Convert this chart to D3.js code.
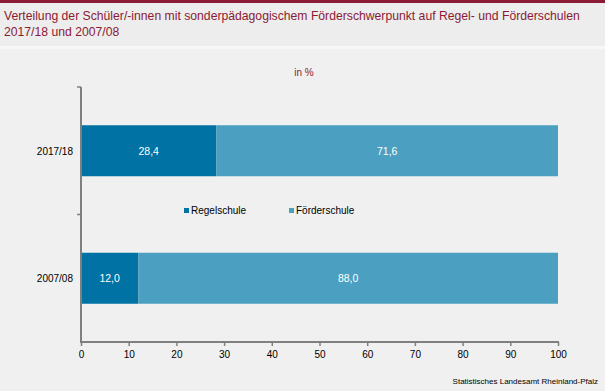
<!DOCTYPE html>
<html><head><meta charset="utf-8">
<script src="https://cdn.jsdelivr.net/npm/d3@7"></script>
<style>
html,body{margin:0;padding:0;background:#eff0ef;}
svg{display:block;font-family:"Liberation Sans",Arial,sans-serif;}
</style></head>
<body>
<script>
const categories = ["2017/18", "2007/08"];
const seriesNames = ["Regelschule", "Förderschule"];
const regelschule = [28.4, 12.0];
const foerderschule = [71.6, 88.0];
const xTicks = [0,10,20,30,40,50,60,70,80,90,100];
const colors = ["#0072a3", "#4b9fc1"];

const W = 605, H = 391;
const svg = d3.select("body").append("svg").attr("width", W).attr("height", H);

svg.append("rect").attr("x",0).attr("y",0).attr("width",W).attr("height",H).attr("fill","#eff0ef");
svg.append("rect").attr("x",0).attr("y",0).attr("width",W).attr("height",46).attr("fill","#ecedec");
svg.append("rect").attr("x",0).attr("y",46).attr("width",W).attr("height",3).attr("fill","#f7f7f7");
svg.append("rect").attr("x",0).attr("y",0).attr("width",W).attr("height",3).attr("fill","#8b1a35");

const title = svg.append("text").attr("fill","#8b1a35").attr("font-size",12.2);
title.append("tspan").attr("x",4).attr("y",20).text("Verteilung der Schüler/-innen mit sonderpädagogischem Förderschwerpunkt auf Regel- und Förderschulen");
title.append("tspan").attr("x",4).attr("y",36).text("2017/18 und 2007/08");

svg.append("text").attr("x",304).attr("y",76).attr("text-anchor","middle").attr("font-size",10).attr("fill","#8b1a35").text("in %");

const x = d3.scaleLinear().domain([0,100]).range([81,558]);
const y = d3.scaleBand().domain(categories).range([87,342]).paddingInner(0.6).paddingOuter(0.3);

const data = categories.map((c,i)=>({cat:c, vals:[regelschule[i], foerderschule[i]]}));
const stack = d3.stack().keys([0,1]).value((d,k)=>d.vals[k]);
const series = stack(data);

const g = svg.append("g");
series.forEach((s,si)=>{
  g.selectAll(null).data(s).enter().append("rect")
    .attr("x",d=>x(d[0])).attr("width",d=>x(d[1])-x(d[0]))
    .attr("y",d=>y(d.data.cat)).attr("height",y.bandwidth())
    .attr("fill",colors[si]);
  g.selectAll(null).data(s).enter().append("text")
    .attr("x",d=>(x(d[0])+x(d[1]))/2).attr("y",d=>y(d.data.cat)+y.bandwidth()/2+4)
    .attr("text-anchor","middle").attr("fill","#fff").attr("font-size",10.5)
    .text(d=>d3.format(".1f")(d[1]-d[0]).replace(".",","));
});

// y axis
const axisColor = "#7f7f7f";
svg.append("line").attr("x1",81).attr("x2",81).attr("y1",87).attr("y2",343).attr("stroke",axisColor).attr("stroke-width",2);
const bounds = [87, (87+342)/2];
bounds.forEach(b=>svg.append("line").attr("x1",77).attr("x2",81).attr("y1",b).attr("y2",b).attr("stroke",axisColor).attr("stroke-width",1.5));
categories.forEach(c=>{
  svg.append("text").attr("x",73).attr("y",y(c)+y.bandwidth()/2+4).attr("text-anchor","end")
    .attr("font-size",10).attr("fill","#000").text(c);
});

// x axis
const xa = svg.append("g").attr("transform","translate(0,342)")
  .call(d3.axisBottom(x).tickValues(xTicks).tickSize(4).tickFormat(d3.format("d")));
xa.select(".domain").attr("stroke",axisColor).attr("stroke-width",2).attr("d","M80,0H559");
xa.selectAll(".tick line").attr("stroke",axisColor).attr("stroke-width",1.5);
xa.selectAll(".tick text").attr("fill","#000").attr("font-size",10).attr("font-family","Liberation Sans, Arial, sans-serif").attr("dy","0.9em");

// legend
const leg = [{x:184},{x:289}];
seriesNames.forEach((n,i)=>{
  svg.append("rect").attr("x",leg[i].x).attr("y",208).attr("width",5).attr("height",5).attr("fill",colors[i]);
  svg.append("text").attr("x",leg[i].x+7).attr("y",214).attr("font-size",10).attr("fill","#000").text(n);
});

svg.append("text").attr("x",598).attr("y",384).attr("text-anchor","end").attr("font-size",8).attr("fill","#000")
  .text("Statistisches Landesamt Rheinland-Pfalz");
</script>
</body></html>
